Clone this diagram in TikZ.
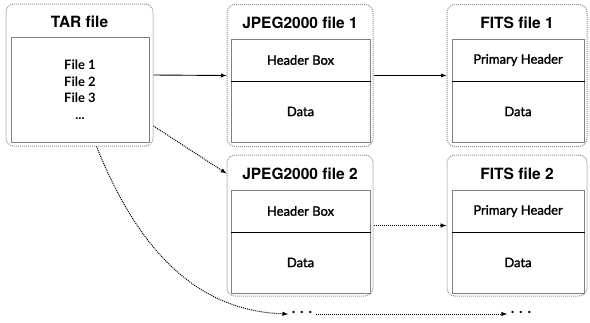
\documentclass[tikz,border=0pt]{standalone}
\usepackage{fontspec}
\setmainfont{Lato}
\newfontfamily\bodyfont{Lato}[FakeBold=1.6]
\newfontfamily\titlefont{TeX Gyre Heros}
\usetikzlibrary{calc}

\begin{document}
\begin{tikzpicture}[x=1pt,y=-1pt,font=\bodyfont\fontsize{13}{15}\selectfont]
    \tikzstyle{outer box}=[draw=gray!85,densely dotted,line width=1pt,rounded corners=8pt,inner sep=0,minimum width=146pt,minimum height=142pt]
    \tikzstyle{file title}=[font=\titlefont\fontsize{15.5}{18}\selectfont\bfseries]
    \tikzstyle{part box}=[draw=gray,line width=1pt,inner sep=0,minimum width=139pt]
    \tikzstyle{header part}=[part box,minimum height=42pt]
    \tikzstyle{data part}=[part box,minimum height=61pt]
    \tikzstyle{solid link}=[->,>=latex,line width=0.9pt]
    \tikzstyle{dotted link}=[->,>=latex,densely dotted,line width=1pt]
    \useasboundingbox (0,0) rectangle (590,322);

    % TAR file
    \node(tar)[outer box,minimum width=147pt] at (79.5,75) {};
    \node(tartitle)[file title] at (79.5,22) {TAR file};
    \node(tarin)[part box,minimum width=138pt,minimum height=105pt,align=center,
        font=\rmfamily\fontsize{13}{16.5}\selectfont\bfseries] at (80,89.5)
        {File 1\\File 2\\File 3\\...};

    % JPEG2000 file 1
    \node(jp1)[outer box] at (300,75.5) {};
    \node(jp1title)[file title] at (300,23) {JPEG2000 file 1};
    \node(jp1head)[header part] at (300.5,60) {Header Box};
    \node(jp1data)[data part] at (300.5,111.5) {Data};

    % FITS file 1
    \node(fits1)[outer box,minimum width=140pt] at (517,75.5) {};
    \node(fits1title)[file title] at (517,23) {FITS file 1};
    \node(fits1head)[header part,minimum width=132pt] at (518,60) {Primary Header};
    \node(fits1data)[data part,minimum width=132pt] at (518,111.5) {Data};

    % JPEG2000 file 2
    \node(jp2)[outer box,minimum height=141pt] at (300,225.5) {};
    \node(jp2title)[file title] at (300,174) {JPEG2000 file 2};
    \node(jp2head)[header part] at (300.5,211) {Header Box};
    \node(jp2data)[data part] at (300.5,262.5) {Data};

    % FITS file 2
    \node(fits2)[outer box,minimum width=140pt,minimum height=141pt] at (517,225.5) {};
    \node(fits2title)[file title] at (517,174) {FITS file 2};
    \node(fits2head)[header part,minimum width=132pt] at (518,211) {Primary Header};
    \node(fits2data)[data part,minimum width=132pt] at (518,262.5) {Data};

    % dividers
    \draw[semithick] (jp1head.south west) -- (jp1head.south east);
    \draw[semithick] (fits1head.south west) -- (fits1head.south east);
    \draw[semithick] (jp2head.south west) -- (jp2head.south east);
    \draw[semithick] (fits2head.south west) -- (fits2head.south east);

    % more files
    \node(more1)[font=\rmfamily\fontsize{15}{16}\selectfont\bfseries] at (302,312.5) {. . .};
    \node(more2)[font=\rmfamily\fontsize{15}{16}\selectfont\bfseries] at (521,312.5) {. . .};

    % links
    \draw[solid link] (tar.east) -- (jp1.west);
    \draw[solid link] (jp1.east) -- (fits1.west);
    \draw[dotted link] ([yshift=-51pt]tar.east) -- ([yshift=52pt]jp2.west);
    \draw[dotted link] (jp2.east) -- (fits2.west);
    \draw[dotted link] ([xshift=17pt]tar.south) to[out=-68,in=178] ([yshift=-1.5pt]more1.west);
    \draw[dotted link] ([yshift=-1.5pt]more1.east) -- ([yshift=-1.5pt]more2.west);
\end{tikzpicture}
\end{document}
